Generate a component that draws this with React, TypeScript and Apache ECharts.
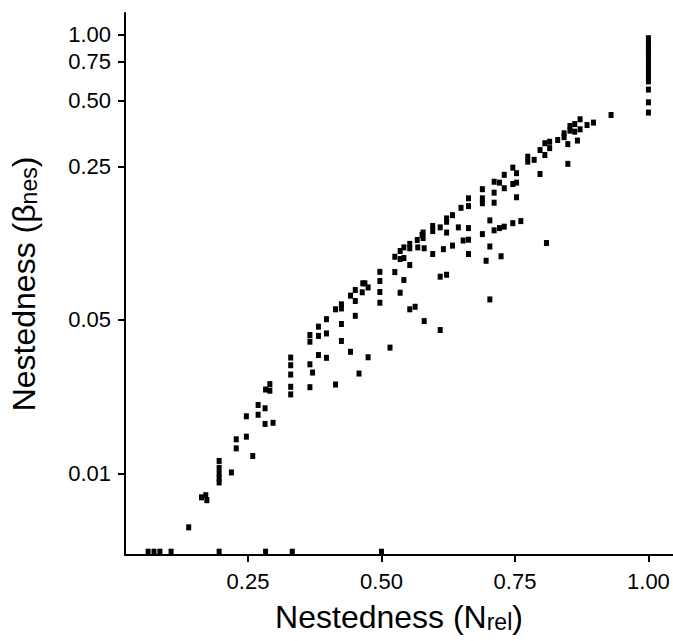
import React, { useEffect, useRef } from "react";
import * as echarts from "echarts";

// Relative nestedness (x) and beta nestedness (y)
const nRel = [
  0.063, 0.074, 0.085, 0.106, 0.196, 0.283, 0.333, 0.5,
  0.139, 0.163, 0.171, 0.173,
  0.196, 0.196, 0.196, 0.196, 0.196,
  0.219, 0.228, 0.228, 0.247, 0.247, 0.259, 0.269, 0.269, 0.282, 0.282, 0.297,
  0.283, 0.291, 0.291,
  0.33, 0.33, 0.33, 0.33, 0.33,
  0.366, 0.366, 0.366, 0.366, 0.371,
  0.382, 0.382, 0.382, 0.397, 0.397, 0.397, 0.414, 0.414,
  0.425, 0.425, 0.425, 0.425, 0.442, 0.442, 0.451, 0.451, 0.451, 0.458,
  0.465, 0.469, 0.475, 0.464, 0.475,
  0.497, 0.497, 0.497, 0.497, 0.516,
  0.525, 0.525, 0.535, 0.535, 0.535, 0.542, 0.542, 0.542,
  0.553, 0.553, 0.553, 0.553, 0.563, 0.567, 0.568, 0.576, 0.578, 0.578, 0.58, 0.58,
  0.596, 0.596, 0.596, 0.61, 0.61, 0.61, 0.616,
  0.622, 0.622, 0.622, 0.622, 0.633, 0.633, 0.644, 0.649, 0.653,
  0.663, 0.663, 0.663, 0.663, 0.663,
  0.689, 0.689, 0.689, 0.689, 0.696, 0.703, 0.703, 0.703,
  0.711, 0.711, 0.711, 0.711, 0.721, 0.721, 0.73, 0.73, 0.73, 0.724,
  0.746, 0.746, 0.746, 0.753, 0.753, 0.753, 0.761,
  0.774, 0.774, 0.786, 0.797, 0.797, 0.806, 0.806, 0.815, 0.815, 0.809,
  0.83, 0.842, 0.842, 0.849, 0.849, 0.853, 0.853, 0.862, 0.862, 0.867,
  0.872, 0.872, 0.885, 0.897, 0.93,
  1.0, 1.0, 1.0, 1.0, 1.0, 1.0, 1.0, 1.0, 1.0, 1.0, 1.0, 1.0, 1.0, 1.0, 1.0, 1.0,
];

const betaNes = [
  0.0044, 0.0044, 0.0044, 0.0044, 0.0044, 0.0044, 0.0044, 0.0044,
  0.00568, 0.00778, 0.00796, 0.00755,
  0.0114, 0.0106, 0.01, 0.0095, 0.0091,
  0.0101, 0.0143, 0.013, 0.0182, 0.0147, 0.012, 0.0205, 0.0185, 0.0198, 0.0168, 0.017,
  0.0241, 0.0255, 0.0238,
  0.0337, 0.0311, 0.0282, 0.0248, 0.0229,
  0.0427, 0.0398, 0.0314, 0.0247, 0.0288,
  0.0466, 0.0423, 0.0346, 0.0504, 0.0434, 0.0336, 0.0559, 0.0254,
  0.0589, 0.0564, 0.0479, 0.0401, 0.0358, 0.0645, 0.0684, 0.061, 0.0522, 0.0285,
  0.0734, 0.0734, 0.0703, 0.0668, 0.0338,
  0.0828, 0.0752, 0.067, 0.0599, 0.0374,
  0.097, 0.0826, 0.103, 0.0947, 0.0665, 0.107, 0.0957, 0.076,
  0.111, 0.106, 0.0889, 0.0559, 0.0574, 0.1156, 0.107, 0.122, 0.125, 0.118, 0.106, 0.0494,
  0.134, 0.127, 0.0998, 0.132, 0.0787, 0.045, 0.105,
  0.145, 0.14, 0.125, 0.0803, 0.15, 0.109, 0.132, 0.162, 0.115,
  0.179, 0.165, 0.131, 0.116, 0.0998,
  0.197, 0.179, 0.17, 0.123, 0.093, 0.142, 0.108, 0.062,
  0.213, 0.19, 0.171, 0.128, 0.131, 0.211, 0.133, 0.229, 0.199, 0.0975,
  0.247, 0.208, 0.138, 0.233, 0.211, 0.181, 0.141,
  0.277, 0.263, 0.268, 0.297, 0.231, 0.319, 0.282, 0.324, 0.303, 0.112,
  0.33, 0.354, 0.34, 0.316, 0.257, 0.382, 0.364, 0.39, 0.36, 0.328,
  0.41, 0.369, 0.386, 0.396, 0.429,
  0.96, 0.93, 0.9, 0.87, 0.84, 0.81, 0.79, 0.75, 0.72, 0.69, 0.665, 0.64, 0.61, 0.56, 0.49, 0.44,
];

const xTicks = [0.25, 0.5, 0.75, 1.0];
const yTicks = [0.01, 0.05, 0.25, 0.5, 0.75, 1.0];
const xRange = [0.0197, 1.046];
const yRange = [0.00425, 1.25];

const FONT = "'Liberation Sans', Arial, Helvetica, sans-serif";

export default function App() {
  const ref = useRef<HTMLDivElement>(null);

  useEffect(() => {
    if (!ref.current) return;
    const chart = echarts.init(ref.current, null, { renderer: "svg" });
    const log = (v: number) => Math.log10(v);
    const yTickLogs = yTicks.map(log);

    chart.setOption({
      animation: false,
      backgroundColor: "#ffffff",
      grid: { left: 125, right: 0, top: 13, bottom: 86, containLabel: false },
      xAxis: {
        type: "value",
        min: xRange[0],
        max: xRange[1],
        splitLine: { show: false },
        axisLine: { show: true, onZero: false, lineStyle: { color: "#000", width: 2 } },
        axisTick: { show: true, length: 7, customValues: xTicks, lineStyle: { color: "#000", width: 2 } },
        axisLabel: {
          customValues: xTicks,
          formatter: (v: number) => v.toFixed(2),
          fontSize: 22,
          color: "#000",
          margin: 15,
          fontFamily: FONT,
        },
        name: "{a|Nestedness (N}{b|rel}{a|)}",
        nameLocation: "middle",
        nameGap: 46,
        nameTextStyle: {
          rich: {
            a: { fontSize: 32, lineHeight: 32, fontFamily: FONT, color: "#000", verticalAlign: "bottom" },
            b: { fontSize: 23, lineHeight: 23, fontFamily: FONT, color: "#000", verticalAlign: "bottom" },
          },
        },
      },
      yAxis: {
        type: "value",
        min: log(yRange[0]),
        max: log(yRange[1]),
        splitLine: { show: false },
        axisLine: { show: true, onZero: false, lineStyle: { color: "#000", width: 2 } },
        axisTick: { show: true, length: 7, customValues: yTickLogs, lineStyle: { color: "#000", width: 2 } },
        axisLabel: {
          customValues: yTickLogs,
          formatter: (v: number) => Math.pow(10, v).toFixed(2),
          fontSize: 22,
          color: "#000",
          margin: 14,
          fontFamily: FONT,
        },
        name: "{a|Nestedness (β}{b|nes}{a|)}",
        nameLocation: "middle",
        nameGap: 85,
        nameTextStyle: {
          rich: {
            a: { fontSize: 32, lineHeight: 32, fontFamily: FONT, color: "#000", verticalAlign: "bottom" },
            b: { fontSize: 23, lineHeight: 23, fontFamily: FONT, color: "#000", verticalAlign: "bottom" },
          },
        },
      },
      series: [
        {
          type: "scatter",
          symbol: "rect",
          symbolSize: [5, 6],
          clip: false,
          itemStyle: { color: "#000", opacity: 1 },
          data: nRel.map((x, i) => [x, log(betaNes[i])]),
        },
      ],
    });

    return () => chart.dispose();
  }, []);

  return (
    <div
      ref={ref}
      style={{ position: "absolute", left: 0, top: 0, width: 673, height: 641 }}
    />
  );
}
